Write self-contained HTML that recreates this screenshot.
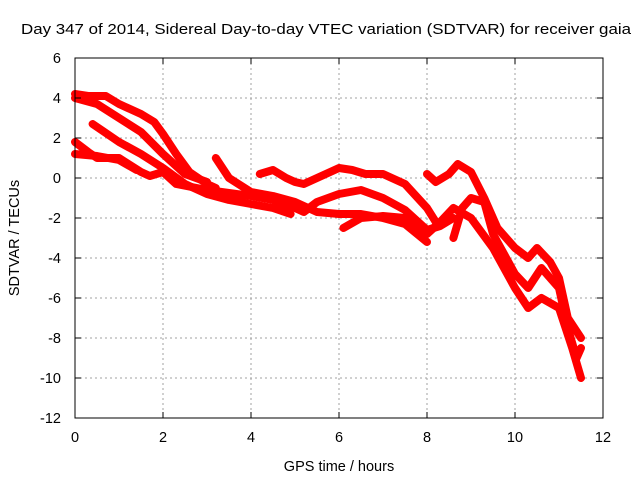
<!DOCTYPE html>
<html><head><meta charset="utf-8"><style>
body{margin:0;background:#fff}
svg{display:block;font-family:"Liberation Sans",Arial,sans-serif;font-size:14.5px}
</style></head><body>
<svg id="chart" width="640" height="480" viewBox="0 0 640 480">
<rect width="640" height="480" fill="#fff"/>
<text x="21" y="34" textLength="610" lengthAdjust="spacingAndGlyphs">Day 347 of 2014, Sidereal Day-to-day VTEC variation (SDTVAR) for receiver gaia</text>
<g id="grid"></g>
<g id="series"></g>
<rect x="75" y="58" width="528" height="360" fill="none" stroke="#000" stroke-width="1"/>
<g id="ticks"></g>
<text x="339" y="471" text-anchor="middle">GPS time / hours</text>
<text transform="translate(19,238) rotate(-90)" text-anchor="middle">SDTVAR / TECUs</text>
</svg>
<script>
const xTicks=[0,2,4,6,8,10,12];
const yTicks=[6,4,2,0,-2,-4,-6,-8,-10,-12];
const s1=[[0,4.2],[0.3,4.1],[0.7,4.1],[1.0,3.7],[1.5,3.2],[1.8,2.8],[2.0,2.2],[2.3,1.2],[2.6,0.3],[3.0,-0.3],[3.2,-0.5]];
const s2=[[0,4.0],[0.5,3.7],[1.0,3.0],[1.5,2.3],[2.0,1.2],[2.5,0.2],[3.0,-0.2]];
const s3=[[0.4,2.7],[1,1.8],[1.5,1.2],[2,0.5],[2.5,-0.3],[3,-0.8],[3.5,-1.1],[4,-1.3],[4.5,-1.5],[4.9,-1.8]];
const s4=[[0,1.8],[0.3,1.3],[0.5,1.0],[1,1.0],[1.5,0.3],[1.7,0.1],[2,0.3],[2.3,-0.3],[3,-0.6],[4,-0.9],[4.5,-1.1]];
const s5=[[0,1.2],[0.5,1.1],[1,0.9],[1.4,0.4]];
const s6=[[3.2,1.0],[3.5,0],[4,-0.7],[4.5,-0.9],[5,-1.2],[5.5,-1.7],[6,-1.8],[6.5,-1.8],[7,-2],[7.5,-2.3],[8,-3.2]];
const s7=[[4.2,0.2],[4.5,0.4],[4.8,0],[5,-0.2],[5.2,-0.3],[5.5,0],[6,0.5],[6.3,0.4],[6.6,0.2],[7,0.2],[7.5,-0.3],[8,-1.5],[8.2,-2.2]];
const s8=[[4.5,-1.1],[5,-1.5],[5.2,-1.7],[5.5,-1.2],[6,-0.8],[6.5,-0.6],[7,-1],[7.5,-1.6],[8,-2.6],[8.3,-2.4],[8.6,-2]];
const s9=[[6.1,-2.5],[6.5,-2],[7,-1.9],[7.5,-2],[8,-2.8],[8.3,-2.2],[8.6,-1.5],[9,-2],[9.5,-3.5],[10,-5.5],[10.3,-6.5],[10.6,-6],[11,-6.5],[11.3,-8.5],[11.5,-10]];
const s10=[[8,0.2],[8.2,-0.2],[8.5,0.2],[8.7,0.7],[9,0.3],[9.3,-1],[9.6,-2.5],[10,-3.5],[10.3,-4],[10.5,-3.5],[10.8,-4.2],[11,-5],[11.2,-7],[11.5,-8]];
const s11=[[8.6,-3],[8.8,-1.5],[9,-1],[9.3,-1.2],[9.5,-2.8],[10,-4.8],[10.3,-5.5],[10.6,-4.5],[11,-5.5],[11.2,-7.5],[11.4,-9],[11.5,-8.5]];
const seriesList=[s1,s2,s3,s4,s5,s6,s7,s8,s9,s10,s11];
const X=v=>75+v*44, Y=v=>178-v*20;
const NS="http://www.w3.org/2000/svg";
const grid=document.getElementById('grid'),ticks=document.getElementById('ticks'),ser=document.getElementById('series');
function mk(tag,attrs,parent){const e=document.createElementNS(NS,tag);for(const k in attrs)e.setAttribute(k,attrs[k]);parent.appendChild(e);return e;}
xTicks.forEach(t=>{
 if(t>0&&t<12){const g=mk('line',{x1:X(t),x2:X(t),y1:58,y2:418,stroke:'#a0a0a0','stroke-dasharray':'2,3'},grid);
 
 }
 const l=mk('text',{x:X(t),y:442,'text-anchor':'middle'},ticks);l.textContent=t;
 
 
 mk('line',{x1:X(t),x2:X(t),y1:418,y2:412,stroke:'#000'},ticks);
 mk('line',{x1:X(t),x2:X(t),y1:58,y2:64,stroke:'#000'},ticks);
});
yTicks.forEach(t=>{
 if(t<6&&t>-12){const g=mk('line',{x1:75,x2:603,y1:Y(t),y2:Y(t),stroke:'#a0a0a0','stroke-dasharray':'2,3'},grid);
 
 }
 const l=mk('text',{x:61,y:Y(t)+5,'text-anchor':'end'},ticks);l.textContent=t;
 
 
 mk('line',{x1:75,x2:81,y1:Y(t),y2:Y(t),stroke:'#000'},ticks);
 mk('line',{x1:603,x2:597,y1:Y(t),y2:Y(t),stroke:'#000'},ticks);
});
seriesList.forEach((s,i)=>{
 const p=mk('polyline',{points:s.map(d=>X(d[0])+','+Y(d[1])).join(' '),fill:'none',stroke:'#ff0000','stroke-width':8,'stroke-linejoin':'round','stroke-linecap':'round'},ser);
 
 
});
</script>
</body></html>
